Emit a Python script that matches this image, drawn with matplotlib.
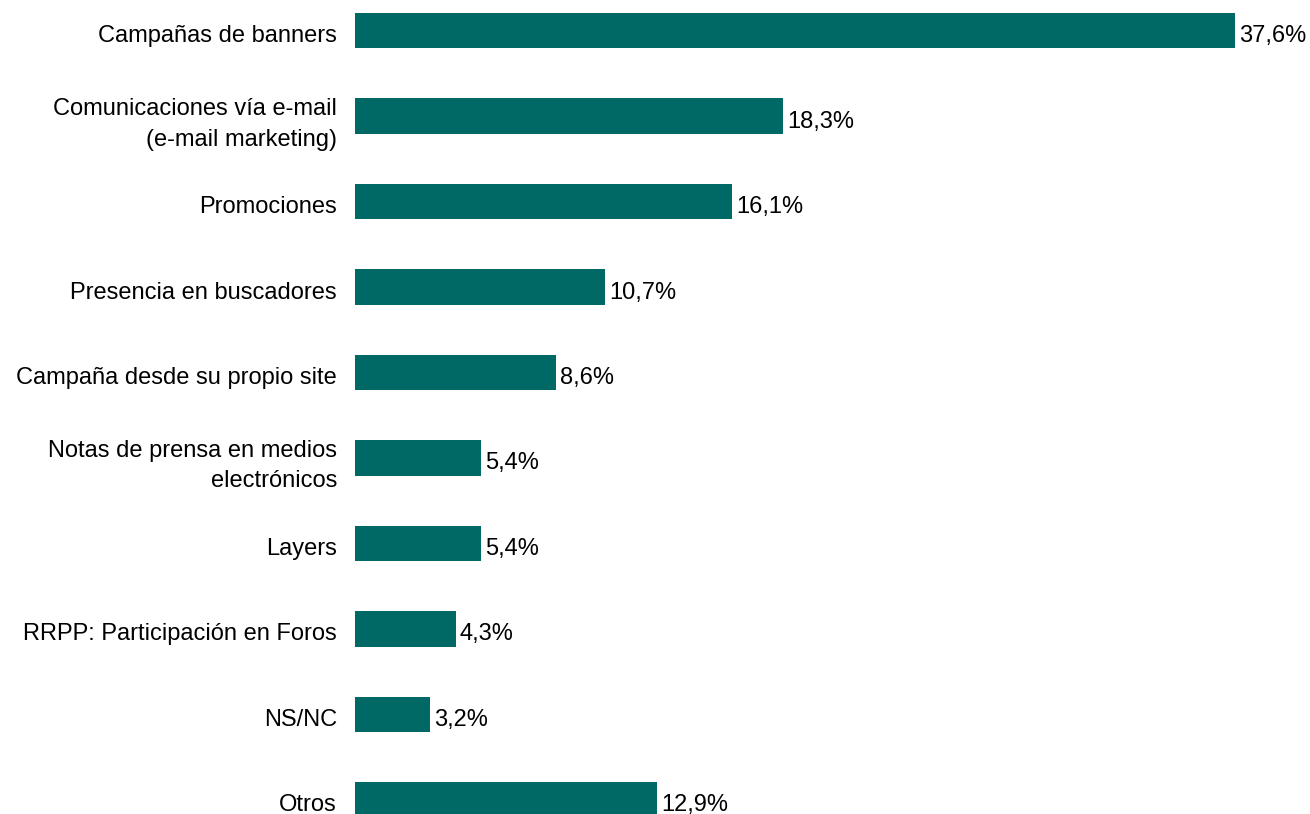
import matplotlib.pyplot as plt
import matplotlib.transforms as mtransforms
import numpy as np

plt.rcParams['font.family'] = ['Liberation Sans', 'DejaVu Sans']

categorias = ['Campañas de banners',
              'Comunicaciones vía e-mail\n(e-mail marketing)',
              'Promociones',
              'Presencia en buscadores',
              'Campaña desde su propio site',
              'Notas de prensa en medios\nelectrónicos',
              'Layers',
              'RRPP: Participación en Foros',
              'NS/NC',
              'Otros']
valores = [37.6, 18.3, 16.1, 10.7, 8.6, 5.4, 5.4, 4.3, 3.2, 12.9]

color_barra = '#006865'
fs = 17

fig = plt.figure(figsize=(13.1, 8.14), dpi=100)
ax = fig.add_axes([355 / 1310, 0, 955 / 1310, 1])

y = np.arange(len(categorias))
ax.barh(y, valores, height=0.42, color=color_barra)

def px(dx, dy):
    # desplazamiento en pixeles (dy positivo hacia abajo)
    return mtransforms.ScaledTranslation(dx / 100, -dy / 100, fig.dpi_scale_trans)

# etiquetas de valor al final de cada barra
for yi, v in zip(y, valores):
    ax.text(v, yi, f'{v:.1f}%'.replace('.', ','), va='baseline', ha='left',
            fontsize=fs, color='black', transform=ax.transData + px(4, 11.5))

# etiquetas de categoria a la izquierda (baseline de la ultima linea)
trans_lbl = mtransforms.blended_transform_factory(ax.transAxes, ax.transData)
for yi, cat in zip(y, categorias):
    dy = 11.5 if '\n' not in cat else 29.5
    ax.text(0, yi, cat, va='baseline', ha='right', multialignment='right',
            fontsize=fs, linespacing=1.5, color='black',
            transform=trans_lbl + px(-18, dy))

ax.set_yticks([])
ax.set_xticks([])
ax.set_xlim(0, 40.8)
ax.set_ylim(9.164, -0.357)
for s in ax.spines.values():
    s.set_visible(False)

fig.savefig('out.png', dpi=100)
